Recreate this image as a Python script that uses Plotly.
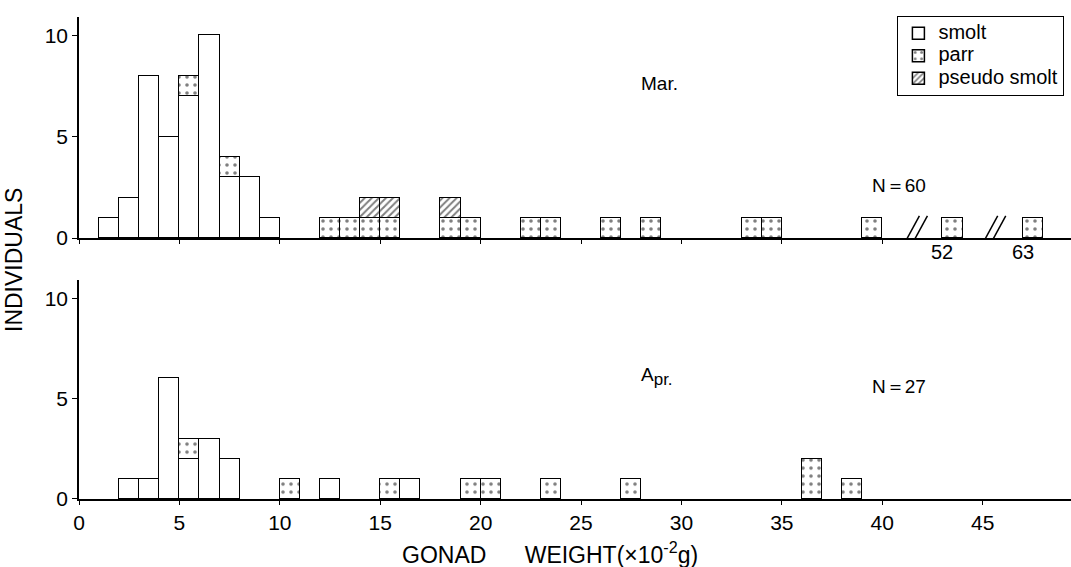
import plotly.graph_objects as go
from plotly.subplots import make_subplots

# ---------------- data (bin start, count) ----------------
mar_smolt_bins = [1, 2, 3, 4, 5, 6, 7, 8, 9]
mar_smolt_counts = [1, 2, 8, 5, 7, 10, 3, 3, 1]
mar_parr_bins = [5, 7, 12, 13, 14, 15, 18, 19, 22, 23, 26, 28, 33, 34, 39, 52, 63]
mar_parr_counts = [1, 1, 1, 1, 1, 1, 1, 1, 1, 1, 1, 1, 1, 1, 1, 1, 1]
mar_pseudo_bins = [14, 15, 18]
mar_pseudo_counts = [1, 1, 1]

apr_smolt_bins = [2, 3, 4, 5, 6, 7, 12, 16]
apr_smolt_counts = [1, 1, 6, 2, 3, 2, 1, 1]
apr_parr_bins = [5, 10, 15, 19, 20, 23, 27, 36, 38]
apr_parr_counts = [1, 1, 1, 1, 1, 1, 1, 2, 1]

x_ticks = [0, 5, 10, 15, 20, 25, 30, 35, 40, 45]
y_ticks = [0, 5, 10]
outlier_values = [52, 63]
series_names = ["smolt", "parr", "pseudo smolt"]

# broken axis: values above a break are shifted left on the plot
breaks = [(60, 16), (50, 9)]


def axis_pos(v):
    for start, shift in breaks:
        if v >= start:
            return v - shift
    return v


def centers(bins):
    return [axis_pos(b) + 0.5 for b in bins]


def legend_name(s):
    return "<span style='font-size:20px'>" + s + "</span>"


FONT = "Liberation Sans, Arial, sans-serif"
LINE = dict(color="black", width=1.5)

fig = make_subplots(rows=2, cols=1)

smolt_style = dict(color="white", line=LINE)
parr_style = dict(color="white", line=LINE,
                  pattern=dict(shape=".", fgcolor="black", bgcolor="white",
                               size=8, solidity=0.16))
pseudo_style = dict(color="white", line=LINE,
                    pattern=dict(shape="/", fgcolor="black", bgcolor="white",
                                 size=5, solidity=0.4))

# March
fig.add_trace(go.Bar(x=centers(mar_smolt_bins), y=mar_smolt_counts, width=1,
                     marker=smolt_style, name=legend_name(series_names[0]),
                     legendgroup="s"), 1, 1)
fig.add_trace(go.Bar(x=centers(mar_parr_bins), y=mar_parr_counts, width=1,
                     marker=parr_style, name=legend_name(series_names[1]),
                     legendgroup="p"), 1, 1)
fig.add_trace(go.Bar(x=centers(mar_pseudo_bins), y=mar_pseudo_counts, width=1,
                     marker=pseudo_style, name=legend_name(series_names[2]),
                     legendgroup="ps"), 1, 1)
# April
fig.add_trace(go.Bar(x=centers(apr_smolt_bins), y=apr_smolt_counts, width=1,
                     marker=smolt_style, name=series_names[0], legendgroup="s",
                     showlegend=False), 2, 1)
fig.add_trace(go.Bar(x=centers(apr_parr_bins), y=apr_parr_counts, width=1,
                     marker=parr_style, name=series_names[1], legendgroup="p",
                     showlegend=False), 2, 1)

fig.update_layout(
    width=1071, height=567,
    barmode="stack", bargap=0,
    paper_bgcolor="white", plot_bgcolor="white",
    margin=dict(l=79, r=0, t=0, b=0, autoexpand=False),
    font=dict(family=FONT, color="black", size=18),
    legend=dict(x=0.825, y=0.972, xanchor="left", yanchor="top",
                bgcolor="white", bordercolor="black", borderwidth=1,
                font=dict(size=15, family=FONT), itemwidth=30,
                tracegroupgap=0),
)

xcommon = dict(range=[0, 49.4], showgrid=False, zeroline=False,
               showline=True, linecolor="black", linewidth=1.5,
               ticks="outside", ticklen=4, tickwidth=1.2, tickcolor="black")
fig.update_xaxes(domain=[0, 1], **xcommon)
fig.update_xaxes(tickvals=x_ticks[:-1], showticklabels=False, row=1, col=1)
fig.update_xaxes(tickvals=x_ticks, tickfont=dict(size=21), row=2, col=1)

ycommon = dict(range=[0, 10.9], showgrid=False, zeroline=False,
               showline=True, linecolor="black", linewidth=1.5,
               ticks="outside", ticklen=5, tickwidth=1.2, tickcolor="black",
               tickvals=y_ticks, tickfont=dict(size=21))
fig.update_yaxes(domain=[0.580, 0.970], **ycommon, row=1, col=1)
fig.update_yaxes(domain=[0.120, 0.506], **ycommon, row=2, col=1)

# text annotations
ann = [
    dict(x=27.9, y=7.6, xref="x", yref="y", text="Mar.", showarrow=False,
         xanchor="left", yanchor="middle", font=dict(size=19)),
    dict(x=39.4, y=2.6, xref="x", yref="y", text="N＝60", showarrow=False,
         xanchor="left", yanchor="middle", font=dict(size=19)),
    dict(x=27.9, y=6.1, xref="x2", yref="y2",
         text="A<sub><span style='font-size:17px'>pr.</span></sub>", showarrow=False,
         xanchor="left", yanchor="middle", font=dict(size=19)),
    dict(x=39.4, y=5.6, xref="x2", yref="y2", text="N＝27", showarrow=False,
         xanchor="left", yanchor="middle", font=dict(size=19)),
    dict(x=(550 - 79) / 992, y=(567 - 553) / 567, xref="paper", yref="paper",
         text="GONAD\u00a0\u00a0\u00a0\u00a0\u00a0\u00a0WEIGHT(×10<sup>-2</sup>g)",
         showarrow=False, xanchor="center", yanchor="middle", font=dict(size=23)),
    dict(x=(14 - 79) / 992, y=(567 - 260) / 567, xref="paper", yref="paper",
         text="INDIVIDUALS", textangle=-90, showarrow=False,
         xanchor="center", yanchor="middle", font=dict(size=23)),
]
for v in outlier_values:
    ann.append(dict(x=axis_pos(v), y=-0.062, xref="x", yref="y domain", text=str(v),
                    showarrow=False, xanchor="center", yanchor="middle",
                    font=dict(size=20)))
fig.update_layout(annotations=ann)

# axis break marks "//"
for bx in [41.0, 44.9]:
    for off in [0.0, 0.4]:
        fig.add_shape(type="line", xref="x", yref="y",
                      x0=bx + off, y0=-0.45, x1=bx + off + 0.85, y1=1.1,
                      line=dict(color="black", width=1.5))

fig.write_html("out.html",
               config={"displayModeBar": False},
               post_script="document.body.style.margin='0';"
                           "document.body.style.overflow='hidden';")
